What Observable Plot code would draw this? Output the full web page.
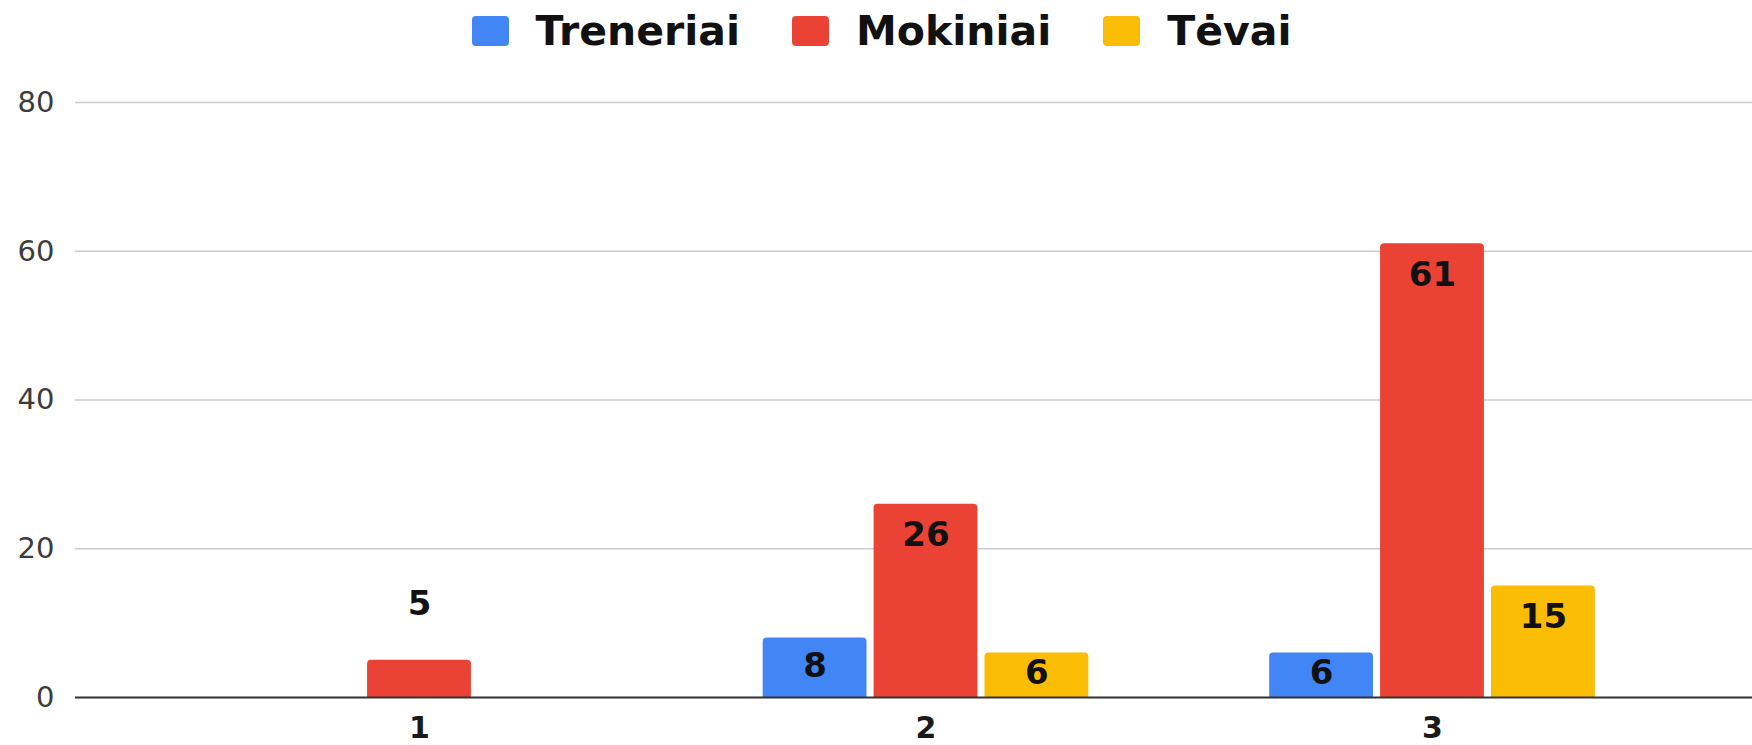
<!DOCTYPE html>
<html>
<head>
<meta charset="utf-8">
<script src="https://cdn.jsdelivr.net/npm/d3@7"></script>
<script src="https://cdn.jsdelivr.net/npm/@observablehq/plot@0.6"></script>
<style>
  body { margin: 0; background: #ffffff; }
  #legend {
    height: 62px; display: flex; justify-content: center; align-items: center;
    font-family: "DejaVu Sans", sans-serif; font-weight: bold; font-size: 41px; color: #111;
    padding-left: 11px; box-sizing: border-box;
  }
  .item { display: flex; align-items: center; margin: 0 26px; }
  .sw { width: 37px; height: 30px; border-radius: 4px; margin-right: 27px; }
</style>
</head>
<body>
<div id="legend"></div>
<div id="chart"></div>
<script>
// ---- data ----
const categories = ["1", "2", "3"];
const seriesNames = ["Treneriai", "Mokiniai", "Tėvai"];
const treneriai = [null, 8, 6];
const mokiniai = [5, 26, 61];
const tevai = [null, 6, 15];
const seriesColors = ["#4285f4", "#ea4335", "#fbbc04"];
const yTicks = [0, 20, 40, 60, 80];

// ---- legend ----
const legend = document.getElementById("legend");
seriesNames.forEach((name, j) => {
  const item = document.createElement("div");
  item.className = "item";
  const sw = document.createElement("span");
  sw.className = "sw";
  sw.style.background = seriesColors[j];
  const label = document.createElement("span");
  label.textContent = name;
  item.appendChild(sw);
  item.appendChild(label);
  legend.appendChild(item);
});

// ---- table ----
const rows = [];
[treneriai, mokiniai, tevai].forEach((vals, j) => {
  vals.forEach((v, i) => {
    if (v != null) rows.push({cat: i + 1, label: categories[i], series: seriesNames[j], j, value: v});
  });
});
const groupStep = 0.219;  // spacing of series within a group (x units)
const barHalf = 0.1025;   // half bar width (x units)
const xc = d => d.cat + (d.j - 1) * groupStep;

const labelStyle = {
  fontFamily: "DejaVu Sans", fontWeight: "bold", fontSize: 34, fill: "#111",
  text: d => String(d.value)
};

const chart = Plot.plot({
  width: 1752,
  height: 683,
  marginTop: 40,
  marginBottom: 48,
  marginLeft: 75,
  marginRight: 0,
  style: {fontFamily: "DejaVu Sans", background: "#ffffff"},
  x: {type: "linear", domain: [1, 3], range: [419, 1432], axis: null},
  y: {domain: [0, 80], axis: null},
  color: {domain: seriesNames, range: seriesColors},
  marks: [
    Plot.ruleY(yTicks.filter(v => v > 0), {stroke: "#cccccc", strokeWidth: 1.6}),
    Plot.rect(rows, {
      x1: d => xc(d) - barHalf,
      x2: d => xc(d) + barHalf,
      y1: 0,
      y2: "value",
      fill: "series",
      rx: 4,
      insetBottom: -6,
      clip: true
    }),
    Plot.ruleY([0], {stroke: "#333333", strokeWidth: 2}),
    Plot.axisY({
      ticks: yTicks, tickSize: 0, tickPadding: 21, fontSize: 29, color: "#3c3c3c", label: null
    }),
    Plot.axisX({
      ticks: [1, 2, 3], tickFormat: i => categories[i - 1], tickSize: 0, tickPadding: 19,
      fontSize: 30, fontWeight: "bold", color: "#1a1a1a", label: null
    }),
    Plot.text(rows.filter(d => d.value >= 10), {x: xc, y: "value", dy: 31, ...labelStyle}),
    Plot.text(rows.filter(d => d.value >= 6 && d.value < 10), {x: xc, y: d => d.value / 2, dy: -2, ...labelStyle}),
    Plot.text(rows.filter(d => d.value < 6), {x: xc, y: "value", dy: -56, ...labelStyle})
  ]
});
document.getElementById("chart").appendChild(chart);
</script>
</body>
</html>
